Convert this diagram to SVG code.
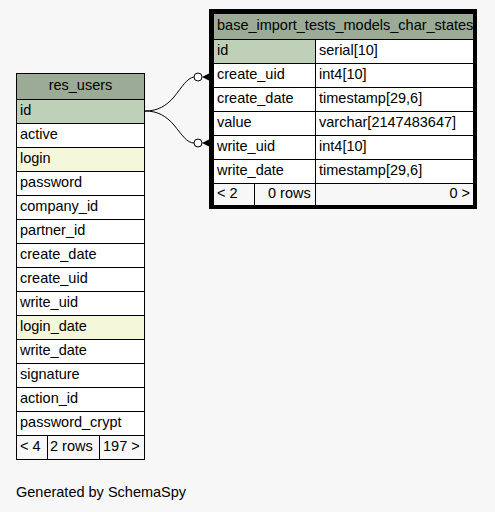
<svg xmlns="http://www.w3.org/2000/svg" width="495" height="512" viewBox="0 0 495 512">
  <style>
    text { font-family: "Liberation Sans", Arial, Helvetica, sans-serif; font-size: 14.5px; fill: #000; }
    .cell { fill: #ffffff; stroke: #000; stroke-width: 1; }
    .hdr { fill: #9bab96; stroke: #000; stroke-width: 1; }
    .pk { fill: #bed1b8; stroke: #000; stroke-width: 1; }
    .idx { fill: #f4f7da; stroke: #000; stroke-width: 1; }
    .foot { fill: #f7f7f7; stroke: #000; stroke-width: 1; }
    .edge { fill: none; stroke: #000; stroke-width: 1; }
    .mid { text-anchor: middle; }
    .end { text-anchor: end; }
  </style>
  <rect x="0" y="0" width="495" height="512" fill="#f7f7f7"/>

  <!-- relationships: res_users.id -> create_uid / write_uid -->
  <g id="connectors">
    <path class="edge" d="M145,111 C158,111 166,106 174,97 C182,87 187,78 194,77"/>
    <path class="edge" d="M145,111 C158,111 166,116 174,125 C182,135 187,143 194,143"/>
    <circle cx="198" cy="77" r="4" fill="#fff" stroke="#000"/>
    <polygon points="202,77 212,72 212,82" fill="#000"/>
    <circle cx="198" cy="143" r="4" fill="#fff" stroke="#000"/>
    <polygon points="202,143 212,138 212,148" fill="#000"/>
  </g>

  <!-- res_users table -->
  <g id="res_users">
    <rect class="hdr" x="16.5" y="73.5" width="128" height="26"/>
    <text class="mid" x="80.5" y="90">res_users</text>
    <rect class="pk" x="16.5" y="99.5" width="128" height="24"/>
    <text x="20" y="115">id</text>
    <rect class="cell" x="16.5" y="123.5" width="128" height="24"/>
    <text x="20" y="139">active</text>
    <rect class="idx" x="16.5" y="147.5" width="128" height="24"/>
    <text x="20" y="163">login</text>
    <rect class="cell" x="16.5" y="171.5" width="128" height="24"/>
    <text x="20" y="187">password</text>
    <rect class="cell" x="16.5" y="195.5" width="128" height="24"/>
    <text x="20" y="211">company_id</text>
    <rect class="cell" x="16.5" y="219.5" width="128" height="24"/>
    <text x="20" y="235">partner_id</text>
    <rect class="cell" x="16.5" y="243.5" width="128" height="24"/>
    <text x="20" y="259">create_date</text>
    <rect class="cell" x="16.5" y="267.5" width="128" height="24"/>
    <text x="20" y="283">create_uid</text>
    <rect class="cell" x="16.5" y="291.5" width="128" height="24"/>
    <text x="20" y="307">write_uid</text>
    <rect class="idx" x="16.5" y="315.5" width="128" height="24"/>
    <text x="20" y="331">login_date</text>
    <rect class="cell" x="16.5" y="339.5" width="128" height="24"/>
    <text x="20" y="355">write_date</text>
    <rect class="cell" x="16.5" y="363.5" width="128" height="24"/>
    <text x="20" y="379">signature</text>
    <rect class="cell" x="16.5" y="387.5" width="128" height="24"/>
    <text x="20" y="403">action_id</text>
    <rect class="cell" x="16.5" y="411.5" width="128" height="24"/>
    <text x="20" y="427">password_crypt</text>
    <rect class="foot" x="16.5" y="435.5" width="31" height="24"/>
    <rect class="foot" x="47.5" y="435.5" width="52" height="24"/>
    <rect class="foot" x="99.5" y="435.5" width="45" height="24"/>
    <text x="20" y="451">&lt; 4</text>
    <text x="50" y="451">2 rows</text>
    <text x="103" y="451">197 &gt;</text>
  </g>

  <!-- base_import_tests_models_char_states table (focused, heavy frame) -->
  <g id="base_import_tests_models_char_states">
    <rect x="211" y="11" width="264" height="196" fill="none" stroke="#000" stroke-width="4"/>
    <rect class="hdr" x="213.5" y="13.5" width="260" height="26"/>
    <text x="217" y="30">base_import_tests_models_char_states</text>
    <rect class="pk" x="213.5" y="39.5" width="102" height="24"/>
    <rect class="cell" x="315.5" y="39.5" width="158" height="24"/>
    <text x="217" y="54.5">id</text>
    <text x="319" y="54.5">serial[10]</text>
    <rect class="cell" x="213.5" y="63.5" width="102" height="24"/>
    <rect class="cell" x="315.5" y="63.5" width="158" height="24"/>
    <text x="217" y="78.5">create_uid</text>
    <text x="319" y="78.5">int4[10]</text>
    <rect class="cell" x="213.5" y="87.5" width="102" height="24"/>
    <rect class="cell" x="315.5" y="87.5" width="158" height="24"/>
    <text x="217" y="102.5">create_date</text>
    <text x="319" y="102.5">timestamp[29,6]</text>
    <rect class="cell" x="213.5" y="111.5" width="102" height="24"/>
    <rect class="cell" x="315.5" y="111.5" width="158" height="24"/>
    <text x="217" y="126.5">value</text>
    <text x="319" y="126.5">varchar[2147483647]</text>
    <rect class="cell" x="213.5" y="135.5" width="102" height="24"/>
    <rect class="cell" x="315.5" y="135.5" width="158" height="24"/>
    <text x="217" y="150.5">write_uid</text>
    <text x="319" y="150.5">int4[10]</text>
    <rect class="cell" x="213.5" y="159.5" width="102" height="24"/>
    <rect class="cell" x="315.5" y="159.5" width="158" height="24"/>
    <text x="217" y="174.5">write_date</text>
    <text x="319" y="174.5">timestamp[29,6]</text>
    <rect class="foot" x="213.5" y="183.5" width="41" height="22"/>
    <rect class="foot" x="254.5" y="183.5" width="61" height="22"/>
    <rect class="foot" x="315.5" y="183.5" width="158" height="22"/>
    <text x="217" y="198">&lt; 2</text>
    <text x="268" y="198">0 rows</text>
    <text class="end" x="470" y="198">0 &gt;</text>
  </g>

  <text x="16" y="497">Generated by SchemaSpy</text>
</svg>
